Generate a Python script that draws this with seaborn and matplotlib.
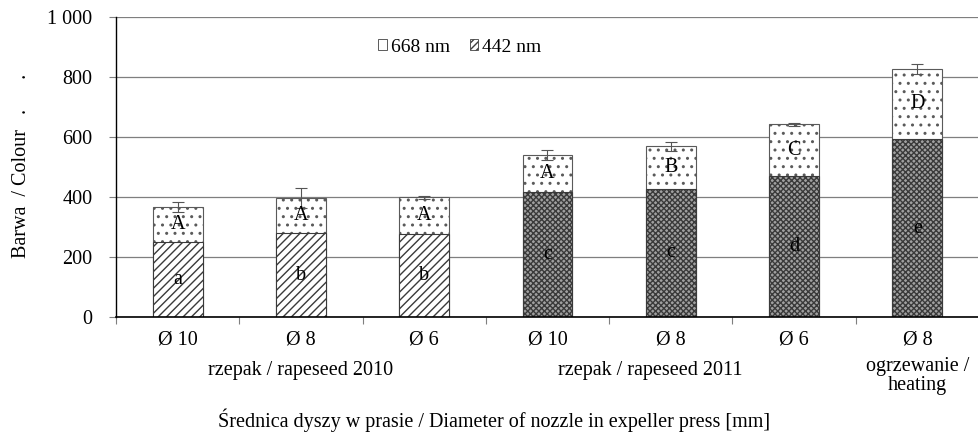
import matplotlib
matplotlib.use("Agg")
import matplotlib.pyplot as plt
import seaborn as sns
import pandas as pd
import numpy as np
from matplotlib.ticker import FuncFormatter
from matplotlib.patches import Patch

# ---- data ----
sample_keys = ["2010-10", "2010-8", "2010-6", "2011-10", "2011-8", "2011-6", "heat-8"]
nozzle_labels = ["Ø 10", "Ø 8", "Ø 6", "Ø 10", "Ø 8", "Ø 6", "Ø 8"]
colour_442 = [250, 280, 277, 417, 427, 470, 593]
colour_668 = [117, 117, 123, 123, 143, 173, 234]
error_total = [17, 32, 5, 17, 15, 5, 18]
letters_442 = ["a", "b", "b", "c", "c", "d", "e"]
letters_668 = ["A", "A", "A", "A", "B", "C", "D"]
group_labels = ["rzepak / rapeseed 2010", "rzepak / rapeseed 2011", "ogrzewanie /\nheating"]
group_centers = [1, 3.83, 6]
y_ticks = [0, 200, 400, 600, 800, 1000]

df = pd.DataFrame({"key": sample_keys, "c442": colour_442, "c668": colour_668, "err": error_total})
df["total"] = df["c442"] + df["c668"]

sns.set_theme(style="white")
plt.rcParams["font.family"] = ["Liberation Serif", "DejaVu Serif"]
plt.rcParams["text.color"] = "black"
plt.rcParams["hatch.linewidth"] = 1.0

FS = 14.5

fig = plt.figure(figsize=(9.79, 4.37), dpi=100)
ax = fig.add_axes([116 / 979, 1 - 317 / 437, 1 - 116 / 979, 300 / 437])

edge = "#404040"
sns.barplot(data=df, x="key", y="total", order=sample_keys, color="white", saturation=1,
            edgecolor=edge, linewidth=0.8, width=0.405, errorbar=None, ax=ax, zorder=2)
sns.barplot(data=df, x="key", y="c442", order=sample_keys, color="white", saturation=1,
            edgecolor=edge, linewidth=0.8, width=0.405, errorbar=None, ax=ax, zorder=2)

n = len(sample_keys)
top_patches = ax.patches[:n]
bot_patches = ax.patches[n:2 * n]
for p in top_patches:
    p.set_hatch("..")
    p.set_edgecolor("#5a5a5a")
for i, p in enumerate(bot_patches):
    if i < 3:
        p.set_facecolor("white")
        p.set_hatch("////")
        p.set_edgecolor("#3a3a3a")
    else:
        p.set_facecolor("#a0a0a0")
        p.set_hatch("xxxxxx")
        p.set_edgecolor("#3a3a3a")

ax.errorbar(np.arange(n), df["total"], yerr=df["err"], fmt="none", ecolor="#555555",
            elinewidth=0.8, capsize=4, capthick=0.8, zorder=3)

for i in range(n):
    ax.text(i, df["c442"][i] / 2, letters_442[i], ha="center", va="center", fontsize=FS, zorder=4)
    ax.text(i, df["c442"][i] + df["c668"][i] / 2, letters_668[i], ha="center", va="center",
            fontsize=FS, zorder=4)

ax.set_ylim(0, 1000)
ax.set_xlim(-0.5, n - 0.5)
ax.set_yticks(y_ticks)
ax.yaxis.set_major_formatter(FuncFormatter(lambda v, _: f"{int(v):,}".replace(",", " ")))
ax.yaxis.grid(True, color="#7f7f7f", linewidth=0.9)
ax.set_axisbelow(True)

ax.set_xticks(range(n))
ax.set_xticklabels(nozzle_labels)
ax.set_xticks(np.arange(-0.5, n - 0.5, 1), minor=True)
ax.tick_params(axis="x", which="major", length=0, pad=10, labelsize=FS, labelcolor="black")
ax.tick_params(axis="x", which="minor", bottom=True, length=5, width=0.8, color="#7f7f7f")
ax.tick_params(axis="y", left=True, length=5, width=0.8, color="#7f7f7f", pad=12,
               labelsize=FS, labelcolor="black")
ax.set_xlabel("")
ax.set_ylabel("")

for s in ["top", "right"]:
    ax.spines[s].set_visible(False)
ax.spines["left"].set_color("black")
ax.spines["left"].set_linewidth(1.0)
ax.spines["bottom"].set_color("black")
ax.spines["bottom"].set_linewidth(1.2)

trans = ax.get_xaxis_transform()
for lab, xc in zip(group_labels, group_centers):
    if "\n" in lab:
        ax.text(xc, -0.197, lab, transform=trans, ha="center", va="center", fontsize=FS,
                linespacing=1.05)
    else:
        ax.text(xc, -0.178, lab, transform=trans, ha="center", va="center", fontsize=FS)

fig.text(494 / 979, 1 - 420 / 437,
         "Średnica dyszy w prasie / Diameter of nozzle in expeller press [mm]",
         ha="center", va="center", fontsize=FS)
fig.text(22 / 979, 1 - 166 / 437, "Barwa  / Colour   .      .", rotation=90,
         ha="center", va="center", fontsize=FS)

handles = [Patch(facecolor="white", edgecolor=edge, linewidth=0.6),
           Patch(facecolor="white", edgecolor=edge, linewidth=0.6, hatch="/////")]
fig.legend(handles=handles, labels=["668 nm", "442 nm"], loc="center",
           bbox_to_anchor=(460 / 979, 1 - 47 / 437), ncol=2, frameon=False,
           handlelength=0.45, handleheight=0.45, handletextpad=0.2, columnspacing=1.0,
           fontsize=14)

fig.savefig("out.png", dpi=100)
